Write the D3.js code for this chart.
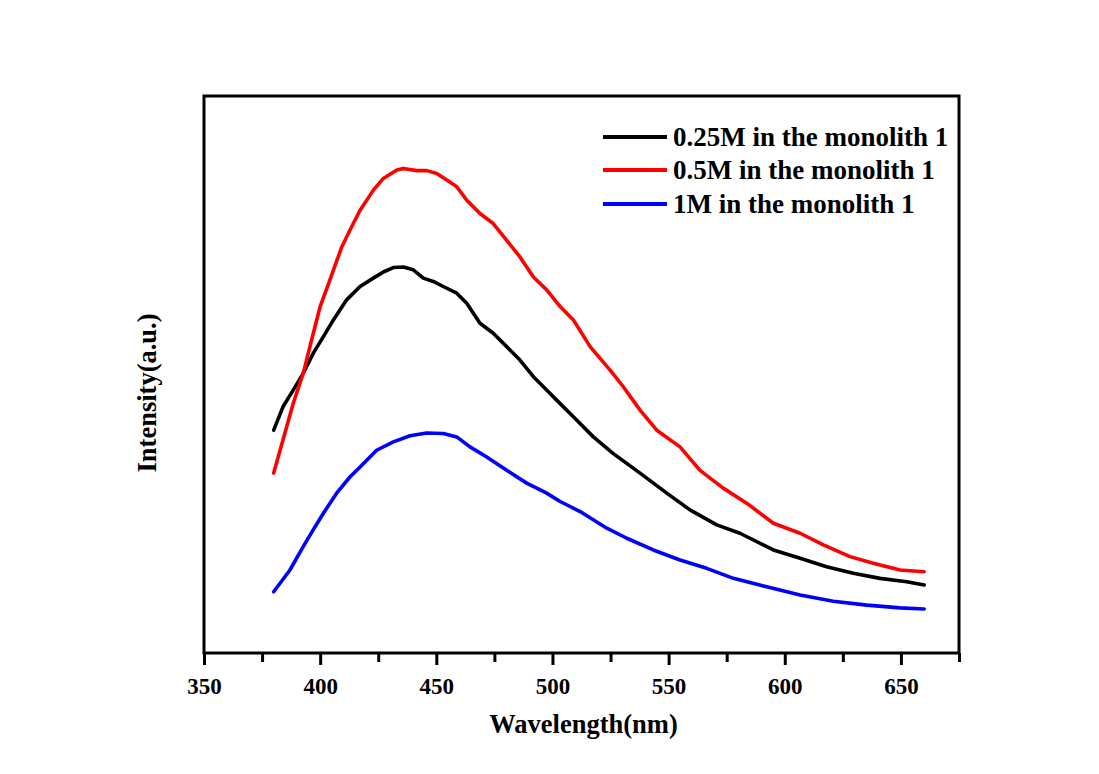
<!DOCTYPE html>
<html>
<head>
<meta charset="utf-8">
<script src="https://cdn.jsdelivr.net/npm/d3@7/dist/d3.min.js"></script>
<style>
  html, body { margin: 0; padding: 0; background: #ffffff; }
  svg { display: block; }
  text { font-family: "Liberation Serif", "Times New Roman", serif; font-weight: bold; fill: #000; }
</style>
</head>
<body>
<svg id="chart" width="1099" height="774"></svg>
<script>
// ---- data ----
const seriesNames = ["0.25M in the monolith 1", "0.5M in the monolith 1", "1M in the monolith 1"];
const seriesColors = ["#000000", "#ff0000", "#0000ff"];

const wlBlack = [380, 384, 388.4, 392.7, 397, 401.4, 405.7, 411.4, 417.2, 422.9, 427.2, 431.5, 435.8, 440.1, 444.4, 448.7, 453, 458.8, 463.1, 468.8, 474.5, 480.3, 486, 491.8, 497.5, 501.8, 509, 517.6, 526.2, 537.7, 549.2, 559.2, 570.7, 580.7, 595.1, 606.6, 618, 629.5, 641, 652.5, 660];
const intBlack = [400, 442, 472, 502, 538, 568, 598, 634, 658, 673, 684, 692, 693, 688, 673, 667, 658, 646, 628, 592, 574, 550, 526, 496, 472, 454, 424, 388, 358, 323, 287, 257, 230, 215, 185, 170, 155, 143, 134, 128, 122];

const wlRed = [380, 388.4, 392.7, 395.6, 400, 404.2, 409.3, 412.8, 417.2, 422.9, 427.2, 433, 435.8, 441.6, 445.9, 450.2, 454.5, 458.8, 463.1, 468.8, 474.5, 480.3, 486, 491.8, 497.5, 503.3, 509, 516.2, 524.8, 530.5, 537.7, 544.9, 554.9, 563.5, 573.5, 583.6, 595.1, 606.6, 616.6, 628.1, 638.1, 649.6, 660];
const intRed = [323, 448, 502, 550, 622, 670, 729, 759, 795, 831, 852, 867, 870, 866, 866, 861, 849, 837, 813, 789, 771, 741, 711, 675, 652, 622, 598, 550, 508, 478, 436, 400, 370, 328, 296, 269, 233, 215, 194, 173, 161, 149, 146];

const wlBlue = [380, 387, 392.7, 397, 401.4, 407.1, 412.8, 417.2, 424.3, 431.5, 438.7, 445.9, 453, 458.8, 464.5, 471.7, 480.3, 488.9, 497.5, 503.3, 511.9, 523.4, 532, 543.4, 554.9, 566.4, 577.9, 592.2, 606.6, 620.9, 635.3, 649.6, 660];
const intBlue = [110, 149, 191, 221, 251, 287, 316, 334, 364, 379, 390, 395, 394, 388, 370, 352, 328, 305, 287, 272, 254, 224, 206, 185, 167, 152, 134, 119, 104, 93, 86, 81, 79];

const xMajorTicks = [350, 400, 450, 500, 550, 600, 650];
const xMinorTicks = [375, 425, 475, 525, 575, 625, 675];
const xDomain = [350, 675];
const yDomain = [0, 1000];
const xTitle = "Wavelength(nm)";
const yTitle = "Intensity(a.u.)";

// ---- layout ----
const svg = d3.select("#chart");
const L = 204, R = 959, T = 96, B = 653;

const x = d3.scaleLinear().domain(xDomain).range([L, R]);
const y = d3.scaleLinear().domain(yDomain).range([B, T]);

const series = [
  { name: seriesNames[0], color: seriesColors[0], pts: wlBlack.map((w, i) => [w, intBlack[i]]) },
  { name: seriesNames[1], color: seriesColors[1], pts: wlRed.map((w, i) => [w, intRed[i]]) },
  { name: seriesNames[2], color: seriesColors[2], pts: wlBlue.map((w, i) => [w, intBlue[i]]) }
];

const line = d3.line().x(d => x(d[0])).y(d => y(d[1])).curve(d3.curveLinear);

svg.append("g").selectAll("path").data(series).join("path")
  .attr("d", d => line(d.pts))
  .attr("fill", "none")
  .attr("stroke", d => d.color)
  .attr("stroke-width", 3.6)
  .attr("stroke-linejoin", "round")
  .attr("stroke-linecap", "round");

// bottom axis: minor ticks
const gMinor = svg.append("g").attr("transform", `translate(0,${B})`)
  .call(d3.axisBottom(x).tickValues(xMinorTicks).tickSize(9).tickFormat(""));
gMinor.select(".domain").remove();
gMinor.selectAll(".tick line").attr("stroke", "#000").attr("stroke-width", 3);

// bottom axis: major ticks
const gMajor = svg.append("g").attr("transform", `translate(0,${B})`)
  .call(d3.axisBottom(x).tickValues(xMajorTicks).tickSize(12).tickPadding(13).tickFormat(d3.format("d")));
gMajor.select(".domain").remove();
gMajor.selectAll(".tick line").attr("stroke", "#000").attr("stroke-width", 3);
gMajor.selectAll(".tick text")
  .attr("font-family", "'Liberation Serif', 'Times New Roman', serif")
  .attr("font-weight", "bold")
  .attr("font-size", 23)
  .attr("fill", "#000");

// frame
svg.append("rect")
  .attr("x", L).attr("y", T)
  .attr("width", R - L).attr("height", B - T)
  .attr("fill", "none")
  .attr("stroke", "#000")
  .attr("stroke-width", 3);

// axis titles
svg.append("text")
  .attr("x", (L + R) / 2 + 2).attr("y", 733)
  .attr("text-anchor", "middle")
  .attr("font-size", 26.5)
  .text(xTitle);

svg.append("text")
  .attr("transform", `translate(156,393) rotate(-90)`)
  .attr("text-anchor", "middle")
  .attr("font-size", 26.5)
  .text(yTitle);

// legend
const legendY = [137, 170, 204];
const leg = svg.append("g");
series.forEach((s, i) => {
  leg.append("line")
    .attr("x1", 603).attr("x2", 667)
    .attr("y1", legendY[i]).attr("y2", legendY[i])
    .attr("stroke", s.color)
    .attr("stroke-width", 4);
  leg.append("text")
    .attr("x", 673).attr("y", legendY[i] + 9)
    .attr("font-size", 27)
    .text(s.name);
});
</script>
</body>
</html>
